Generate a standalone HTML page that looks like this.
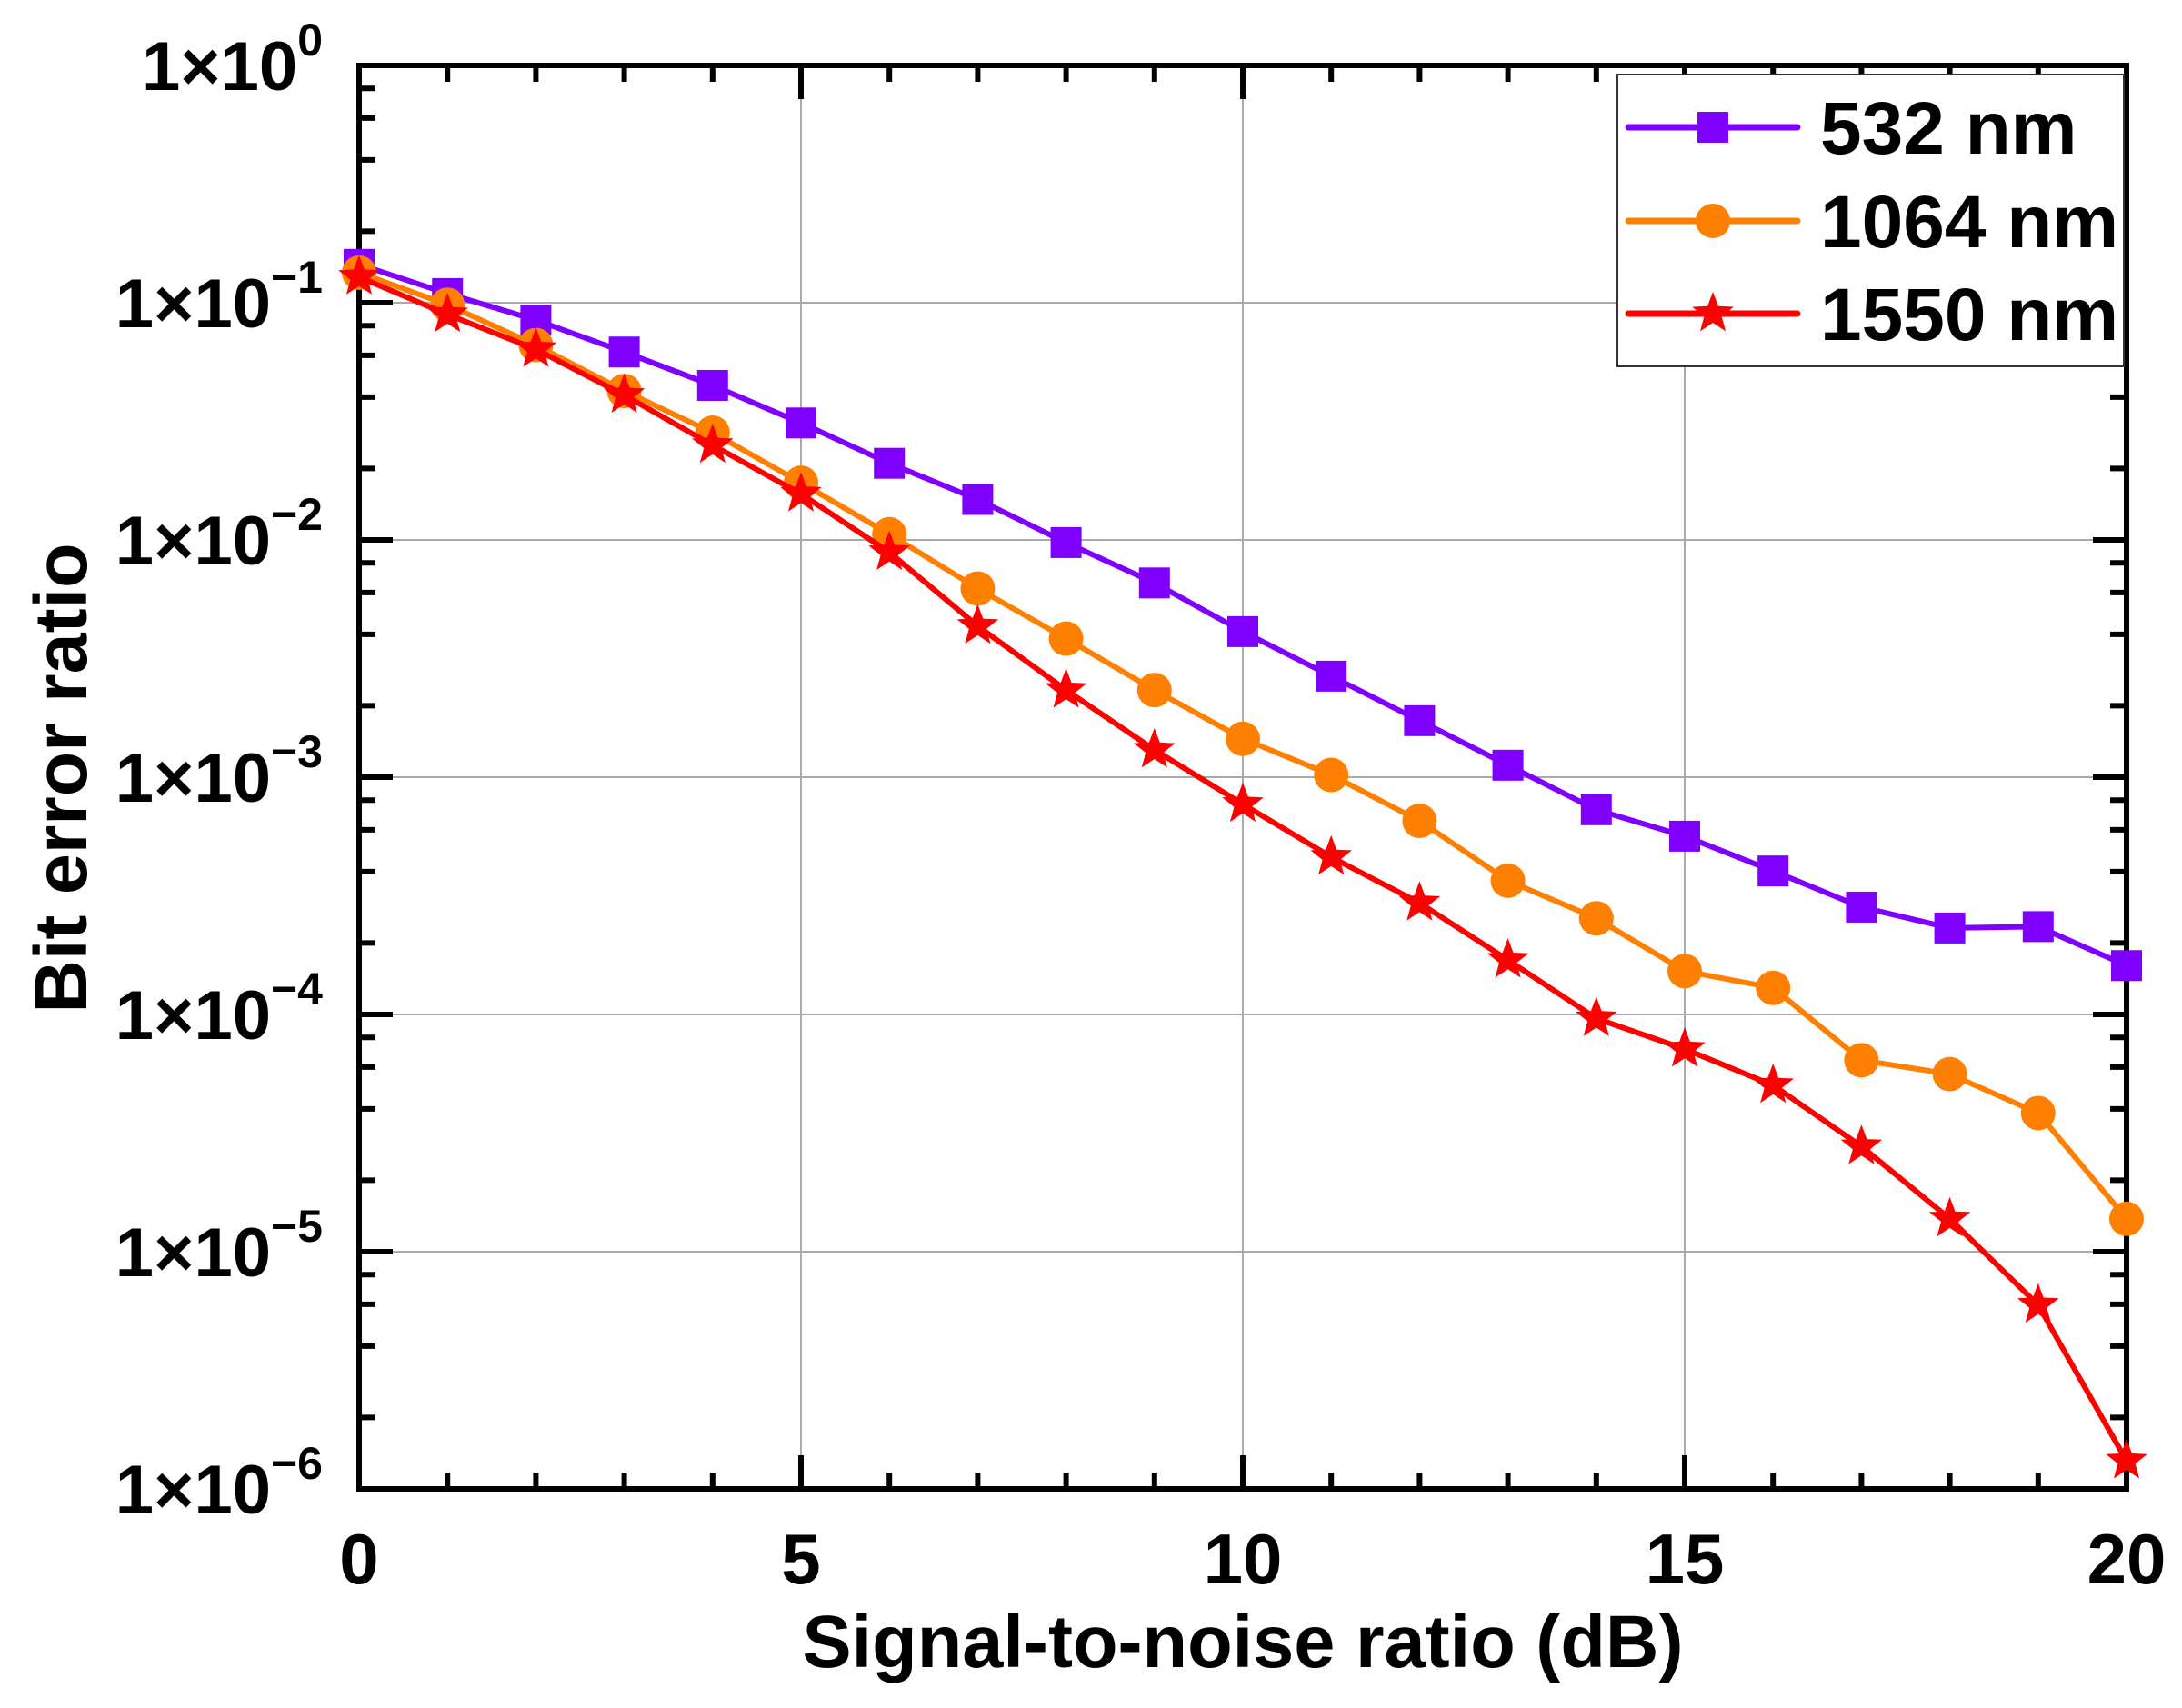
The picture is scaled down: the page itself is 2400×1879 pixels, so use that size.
<!DOCTYPE html>
<html><head><meta charset="utf-8"><style>html,body{margin:0;padding:0;background:#fff}svg{display:block}</style></head>
<body>
<svg id="s" xmlns="http://www.w3.org/2000/svg" width="2400" height="1879" viewBox="0 0 2400 1879" font-family="Liberation Sans, Arial, sans-serif" font-weight="bold"></svg>
<script>
const L=395,R=2339,T=72,B=1638,D=(B-T)/6,UX=(R-L)/20;
let s='';
const X=i=>L+i*UX;
for(let k=1;k<6;k++){const y=T+k*D;s+=`<line x1="${L}" x2="${R}" y1="${y}" y2="${y}" stroke="#aaa" stroke-width="2"/>`;}
for(let k=5;k<20;k+=5){s+=`<line x1="${X(k)}" x2="${X(k)}" y1="${T}" y2="${B}" stroke="#aaa" stroke-width="2"/>`;}
for(let i=0;i<=20;i++){const len=i%5==0?37:18,x=X(i);
 s+=`<line x1="${x}" x2="${x}" y1="${B}" y2="${B-len}" stroke="#000" stroke-width="6"/>`;
 s+=`<line x1="${x}" x2="${x}" y1="${T}" y2="${T+len}" stroke="#000" stroke-width="6"/>`;}
for(let k=0;k<=6;k++){const y=T+k*D;
 s+=`<line x1="${L}" x2="${L+37}" y1="${y}" y2="${y}" stroke="#000" stroke-width="6"/>`;
 s+=`<line x1="${R}" x2="${R-37}" y1="${y}" y2="${y}" stroke="#000" stroke-width="6"/>`;
 if(k<6)for(const m of [2,4,6,8]){const yy=T+(k+1)*D-Math.log10(m)*D;
  s+=`<line x1="${L}" x2="${L+18}" y1="${yy}" y2="${yy}" stroke="#000" stroke-width="6"/>`;
  s+=`<line x1="${R}" x2="${R-18}" y1="${yy}" y2="${yy}" stroke="#000" stroke-width="6"/>`;}
 const sup=k==0?'0':'−'+k;
 s+=`<text x="355" y="${y+27}" text-anchor="end" font-size="76">1×10<tspan dy="-38" font-size="50">${sup}</tspan></text>`;}
s+=`<rect x="${L}" y="${T}" width="${R-L}" height="${B-T}" fill="none" stroke="#000" stroke-width="6"/>`;
for(let i=0;i<=20;i+=5)s+=`<text x="${X(i)}" y="1742" text-anchor="middle" font-size="78">${i}</text>`;
s+=`<text x="1367" y="1834" text-anchor="middle" font-size="82" textLength="969" lengthAdjust="spacingAndGlyphs">Signal-to-noise ratio (dB)</text>`;
s+=`<text transform="translate(95,856) rotate(-90)" text-anchor="middle" font-size="82" textLength="517" lengthAdjust="spacingAndGlyphs">Bit error ratio</text>`;
const d={
p:[190,211,230,253,277,304,333,359,390,419,454,486,518,550,582,601,626,652,667,666,694],
o:[196,219,248,281,311,347,384,423,459,496,531,557,590,633,660,698,710,762,772,800,876],
r:[199,226,251,284,320,355,397,450,496,539,578,616,649,690,732,754,780,824,876,938,1050]};
const col={p:'#7F00FF',o:'#FF8000',r:'#FF0000'};
function star(cx,cy,ro){let p=[];for(let i=0;i<10;i++){const r=i%2?ro*0.42:ro,a=-Math.PI/2+i*Math.PI/5;p.push((cx+r*Math.cos(a)).toFixed(1)+','+(cy+r*Math.sin(a)).toFixed(1));}return `<polygon points="${p.join(' ')}" fill="#FF0000"/>`;}
function mk(k,x,y){if(k=='p')return `<rect x="${x-17}" y="${y-17}" width="34" height="34" fill="${col.p}"/>`;if(k=='o')return `<circle cx="${x}" cy="${y}" r="19" fill="${col.o}"/>`;return star(x,y,24);}
for(const k of ['p','o','r']){const pts=d[k].map((v,i)=>[X(i),v*1.5306]);
 s+=`<polyline points="${pts.map(p=>p.join(',')).join(' ')}" fill="none" stroke="${col[k]}" stroke-width="6" stroke-linejoin="round"/>`;
 pts.forEach(p=>s+=mk(k,p[0],p[1]));}
s+=`<rect x="1779" y="82" width="557" height="321" fill="#fff" stroke="#333" stroke-width="2"/>`;
[['p','532 nm',140],['o','1064 nm',243],['r','1550 nm',345]].forEach(([k,t,y])=>{
 s+=`<line x1="1791" x2="1977" y1="${y}" y2="${y}" stroke="${col[k]}" stroke-width="7" stroke-linecap="round"/>`+mk(k,1884,y);
 s+=`<text x="2002" y="${y+29}" font-size="82">${t}</text>`;});
document.getElementById('s').innerHTML=s;
</script>
</body></html>
